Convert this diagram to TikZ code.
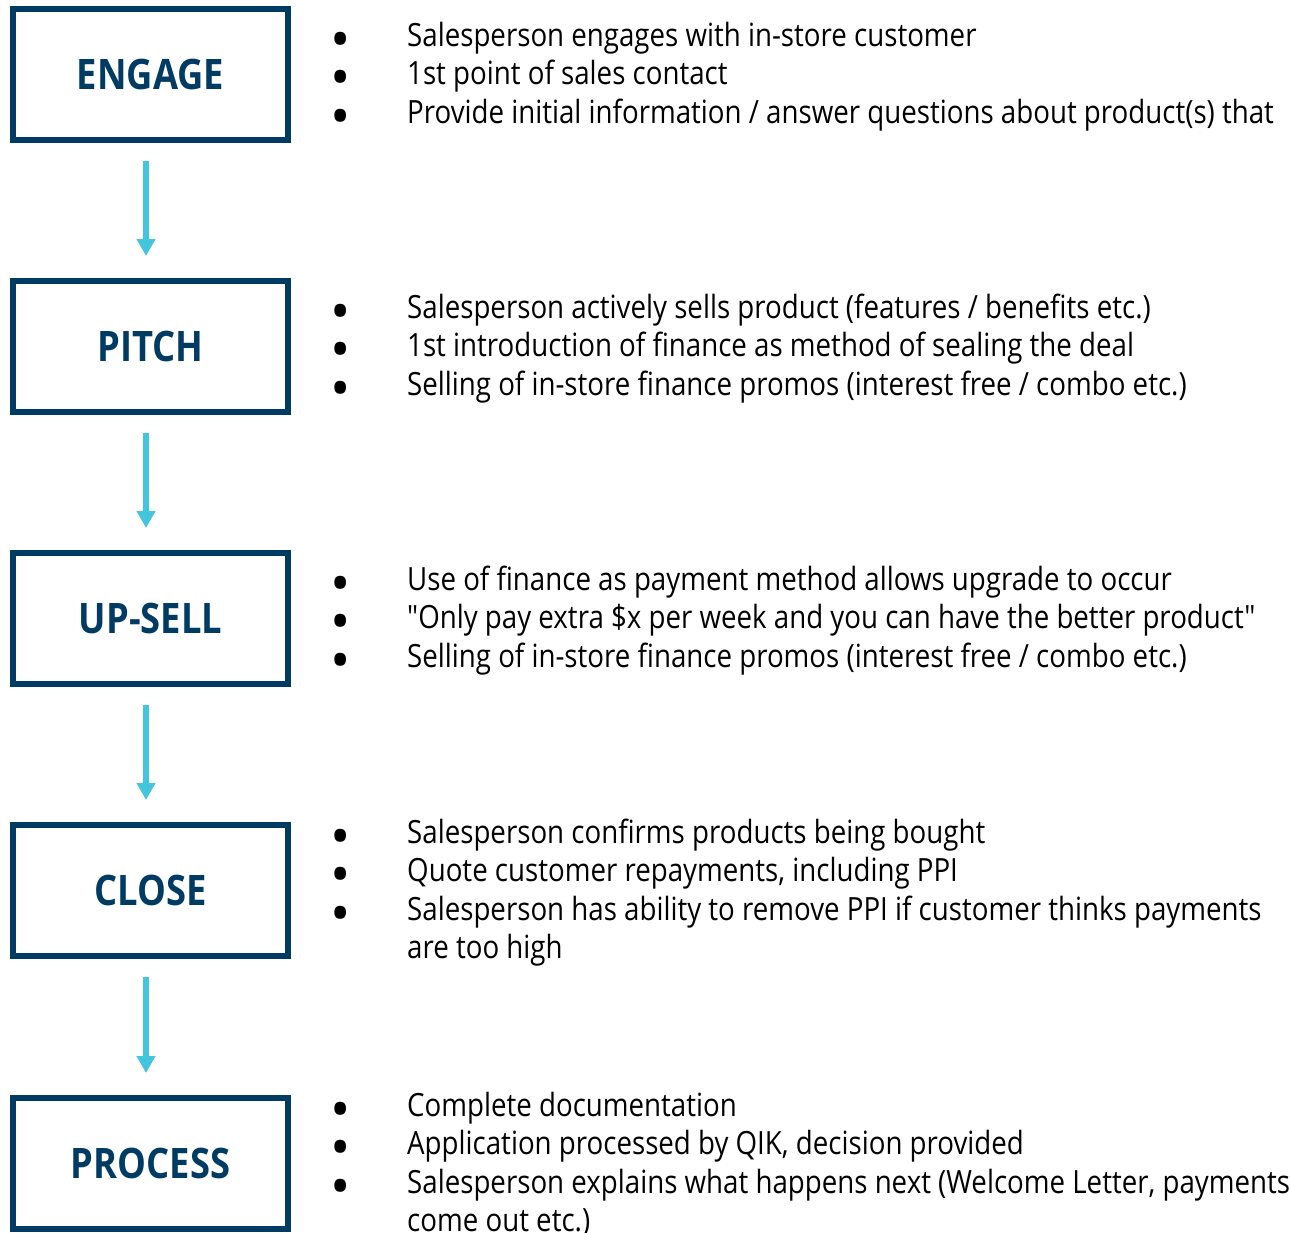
\documentclass[tikz,border=0pt]{standalone}
\usepackage{fontspec}
\setmainfont{Open Sans}[FakeStretch=0.865, Ligatures=TeXOff]
\newfontfamily\bulfont{Open Sans}
\usetikzlibrary{arrows.meta,calc}
\definecolor{navy}{HTML}{003B64}
\definecolor{flowcyan}{HTML}{45C4DD}
\newcommand\bt{\makebox[74pt][l]{\hspace*{-3pt}\smash{\raisebox{-12pt}{\bulfont\fontsize{54}{54}\selectfont •}}}}
\newcommand\fl{\rule{0pt}{30pt}}
\begin{document}
\begin{tikzpicture}[x=1pt,y=-1pt,
  stage/.style={draw=navy, line width=6pt, minimum width=275pt, minimum height=131pt,
    inner sep=0pt, text=navy, font=\fontsize{42}{42}\selectfont\bfseries},
  flow/.style={draw=flowcyan, line width=6pt, -{Triangle[width=18pt,length=17pt]}},
  bullets/.style={anchor=north west, inner sep=0pt, align=left,
    font=\fontsize{32}{38.5}\selectfont}]
\useasboundingbox (0,0) rectangle (1290,1232);

\node[stage] (e) at (150.5,74.5) {ENGAGE};
\node[stage] (p) at (150.5,346.5) {PITCH};
\node[stage] (u) at (150.5,618.5) {UP-SELL};
\node[stage] (c) at (150.5,890.5) {CLOSE};
\node[stage] (r) at (150.5,1163.5) {PROCESS};

\foreach \a/\b in {e/p,p/u,u/c,c/r}
  \draw[flow] ($(\a.south)+(-4.5,18)$) -- ($(\b.north)+(-4.5,-22)$);

\node[bullets] (te) at ($(e.north)+(182.5,10)$) {\fl\bt Salesperson engages with in-store customer\\
\bt 1st point of sales contact\\
\bt Provide initial information / answer questions about product(s) that};

\node[bullets] (tp) at ($(p.north)+(182.5,10)$) {\fl\bt Salesperson actively sells product (features / benefits etc.)\\
\bt 1st introduction of finance as method of sealing the deal\\
\bt Selling of in-store finance promos (interest free / combo etc.)};

\node[bullets] (tu) at ($(u.north)+(182.5,10)$) {\fl\bt Use of finance as payment method allows upgrade to occur\\
\bt "Only pay extra \$x per week and you can have the better product"\\
\bt Selling of in-store finance promos (interest free / combo etc.)};

\node[bullets] (tc) at ($(c.north)+(182.5,-9)$) {\fl\bt Salesperson confirms products being bought\\
\bt Quote customer repayments, including PPI\\
\bt Salesperson has ability to remove PPI if customer thinks payments\\
\hspace*{74pt}are too high};

\node[bullets] (tr) at ($(r.north)+(182.5,-9)$) {\fl\bt Complete documentation\\
\bt Application processed by QIK, decision provided\\
\bt Salesperson explains what happens next (Welcome Letter, payments\\
\hspace*{74pt}come out etc.)};
\end{tikzpicture}
\end{document}
